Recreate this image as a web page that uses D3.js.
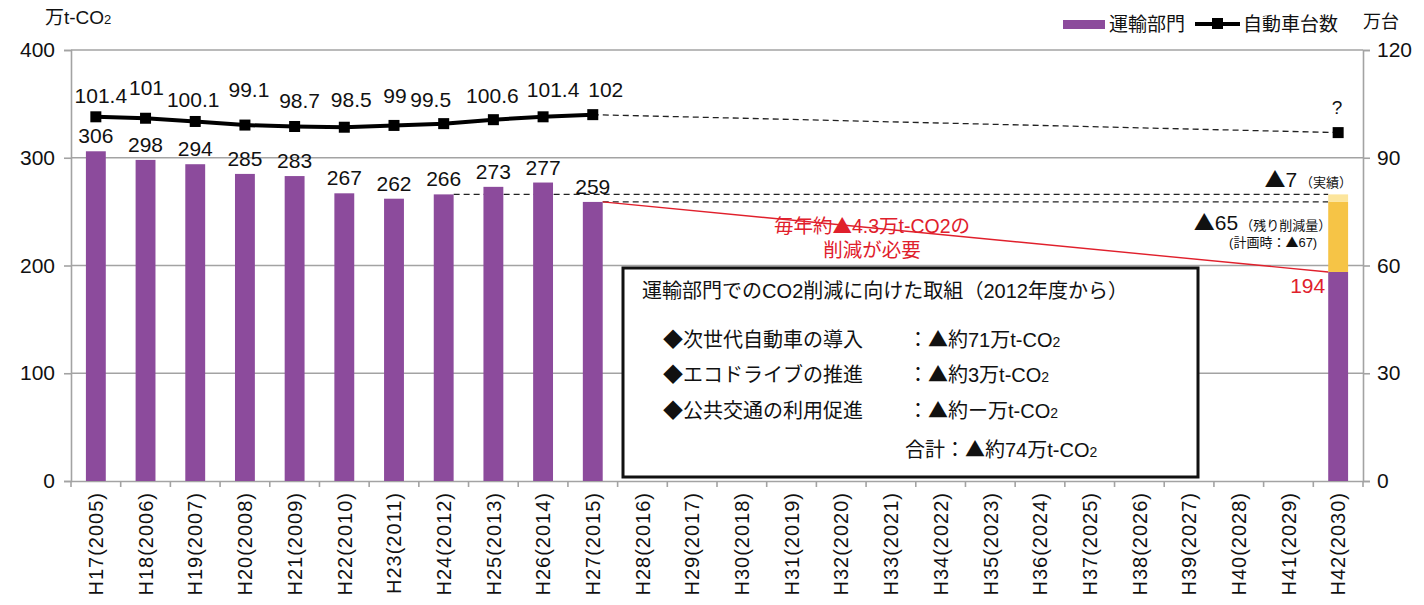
<!DOCTYPE html>
<html lang="ja">
<head>
<meta charset="utf-8">
<script src="https://cdn.jsdelivr.net/npm/d3@7"></script>
<style>
  html, body { margin: 0; padding: 0; background: #fff; }
  svg { display: block; font-family: "Liberation Sans", "Noto Sans CJK JP", sans-serif; }
</style>
</head>
<body>
<svg id="chart" width="1424" height="605"></svg>
<script>
// Fiscal years on the category axis
const categories = [
  "H17(2005)", "H18(2006)", "H19(2007)", "H20(2008)", "H21(2009)", "H22(2010)",
  "H23(2011)", "H24(2012)", "H25(2013)", "H26(2014)", "H27(2015)", "H28(2016)",
  "H29(2017)", "H30(2018)", "H31(2019)", "H32(2020)", "H33(2021)", "H34(2022)",
  "H35(2023)", "H36(2024)", "H37(2025)", "H38(2026)", "H39(2027)", "H40(2028)",
  "H41(2029)", "H42(2030)"
];
// Transport-sector CO2 emissions (万t-CO2), H17–H27
const emissionYears = categories.slice(0, 11);
const emissions = [306, 298, 294, 285, 283, 267, 262, 266, 273, 277, 259];
// Registered vehicles (万台), H17–H27
const vehicles = [101.4, 101, 100.1, 99.1, 98.7, 98.5, 99, 99.5, 100.6, 101.4, 102];
const vehicleLabels = ["101.4", "101", "100.1", "99.1", "98.7", "98.5", "99", "99.5", "100.6", "101.4", "102"];
// Projected vehicles for 2030 (shown as "?")
const vehicles2030 = 97;
// 2030 target bar: target level, remaining reduction, achieved reduction
const target2030 = 194;
const remainingCut = 65;
const achievedCut = 7;
const plannedCut = 67;
// Reference years
const baseYear = "H24(2012)";
const latestYear = "H27(2015)";
const targetYear = "H42(2030)";
// Axis ticks
const leftTicks = [0, 100, 200, 300, 400];
const rightTicks = [0, 30, 60, 90, 120];
// Label placement nudges for the vehicle series [dx, dy]
const vehicleLabelNudge = [[5, -14], [1, -23], [-2, -14], [4, -28], [5, -19], [7, -20],
  [1, -22], [-13, -17], [-1, -17], [10, -20], [13, -18]];

const PURPLE = "#8c4b9c", YELLOW = "#f6c446", PALE = "#fce59c", RED = "#e0202c", GRID = "#a3a3a3";
const CJK = "Noto Sans CJK JP";

const svg = d3.select("#chart");
const plotLeft = 71, plotRight = 1363, plotTop = 50, plotBottom = 481;

const x = d3.scaleBand().domain(categories).range([plotLeft, plotRight]).paddingInner(0.6).paddingOuter(0.3);
const y = d3.scaleLinear().domain([0, 400]).range([plotBottom, plotTop]);
const y2 = d3.scaleLinear().domain([0, 120]).range([plotBottom, plotTop]);
const cx = d => x(d) + x.bandwidth() / 2;

// Appends text, drawing ▲ and ◆ with the CJK font so they come out full width
function rich(sel, str, size) {
  str.split(/([▲◆])/).filter(s => s.length).forEach(part => {
    const t = sel.append("tspan").text(part);
    if (size) t.attr("font-size", size);
    if (part === "▲" || part === "◆") t.attr("font-family", CJK);
  });
  return sel;
}

// Horizontal gridlines
svg.append("g").selectAll("line").data(leftTicks.filter(t => t > 0)).join("line")
  .attr("x1", plotLeft).attr("x2", plotRight)
  .attr("y1", d => y(d)).attr("y2", d => y(d))
  .attr("stroke", GRID).attr("stroke-width", 1.6);

// Left axis
const gl = svg.append("g").attr("transform", `translate(${plotLeft},0)`)
  .call(d3.axisLeft(y).tickValues(leftTicks).tickSize(7).tickPadding(9));
// Right axis
const gr = svg.append("g").attr("transform", `translate(${plotRight},0)`)
  .call(d3.axisRight(y2).tickValues(rightTicks).tickSize(7).tickPadding(7));
[gl, gr].forEach(g => {
  g.select(".domain").attr("stroke", GRID).attr("stroke-width", 1.6);
  g.selectAll(".tick line").attr("stroke", GRID).attr("stroke-width", 1.6);
  g.selectAll(".tick text").attr("font-size", 21).attr("fill", "#111")
    .attr("font-family", "Liberation Sans, sans-serif");
});

// Category axis
const gx = svg.append("g").attr("transform", `translate(0,${plotBottom})`)
  .call(d3.axisBottom(x).tickSize(0).tickPadding(0));
gx.select(".domain").attr("stroke", GRID).attr("stroke-width", 1.6);
gx.selectAll(".tick text")
  .attr("transform", "rotate(-90)")
  .attr("text-anchor", "end")
  .attr("x", -11).attr("y", 0).attr("dy", "0.36em")
  .attr("font-size", 20).attr("letter-spacing", 1).attr("fill", "#111")
  .attr("font-family", "Liberation Sans, sans-serif");
// Ticks at band boundaries
const edges = categories.map(c => x(c) - x.step() * x.paddingInner() / 2).concat([plotRight]);
edges[0] = plotLeft;
svg.append("g").selectAll("line").data(edges).join("line")
  .attr("x1", d => d).attr("x2", d => d).attr("y1", plotBottom).attr("y2", plotBottom + 6)
  .attr("stroke", GRID).attr("stroke-width", 1.6);

// Reference dashed lines: base-year level and latest level to 2030
const dashed = svg.append("g").attr("stroke", "#222").attr("stroke-width", 1.3).attr("stroke-dasharray", "6,4");
const baseVal = emissions[emissionYears.indexOf(baseYear)];
const latestVal = emissions[emissionYears.indexOf(latestYear)];
dashed.append("line")
  .attr("x1", x(baseYear) + x.bandwidth()).attr("x2", x(targetYear))
  .attr("y1", y(baseVal)).attr("y2", y(baseVal));
dashed.append("line")
  .attr("x1", x(latestYear) + x.bandwidth()).attr("x2", x(targetYear))
  .attr("y1", y(latestVal)).attr("y2", y(latestVal));

// Emission bars
svg.append("g").selectAll("rect").data(emissions).join("rect")
  .attr("x", (d, i) => x(emissionYears[i]))
  .attr("width", x.bandwidth())
  .attr("y", d => y(d)).attr("height", d => y(0) - y(d))
  .attr("fill", PURPLE);

// 2030 stacked bar
const stack2030 = [
  { lo: 0, hi: target2030, fill: PURPLE },
  { lo: target2030, hi: target2030 + remainingCut, fill: YELLOW },
  { lo: target2030 + remainingCut, hi: target2030 + remainingCut + achievedCut, fill: PALE }
];
svg.append("g").selectAll("rect").data(stack2030).join("rect")
  .attr("x", x(targetYear)).attr("width", x.bandwidth())
  .attr("y", d => y(d.hi)).attr("height", d => y(d.lo) - y(d.hi))
  .attr("fill", d => d.fill);

// Bar value labels
svg.append("g").selectAll("text").data(emissions).join("text")
  .attr("x", (d, i) => cx(emissionYears[i]))
  .attr("y", d => y(d) - 8)
  .attr("text-anchor", "middle").attr("font-size", 21).attr("fill", "#111")
  .text(d => d);

// Required reduction trend line
svg.append("line")
  .attr("x1", x(latestYear) + x.bandwidth()).attr("y1", y(latestVal))
  .attr("x2", x(targetYear)).attr("y2", y(target2030))
  .attr("stroke", RED).attr("stroke-width", 1.4);

// Vehicle count series
const vPts = vehicles.map((v, i) => [cx(emissionYears[i]), y2(v)]);
svg.append("line")
  .attr("x1", vPts[vPts.length - 1][0]).attr("y1", vPts[vPts.length - 1][1])
  .attr("x2", cx(targetYear)).attr("y2", y2(vehicles2030))
  .attr("stroke", "#222").attr("stroke-width", 1.3).attr("stroke-dasharray", "6,4");
svg.append("path").datum(vPts)
  .attr("d", d3.line())
  .attr("fill", "none").attr("stroke", "#000").attr("stroke-width", 4);
svg.append("g").selectAll("rect").data(vPts.concat([[cx(targetYear), y2(vehicles2030)]])).join("rect")
  .attr("x", d => d[0] - 5.5).attr("y", d => d[1] - 5.5)
  .attr("width", 11).attr("height", 11).attr("fill", "#000");
svg.append("g").selectAll("text").data(vehicleLabels).join("text")
  .attr("x", (d, i) => vPts[i][0] + vehicleLabelNudge[i][0])
  .attr("y", (d, i) => vPts[i][1] + vehicleLabelNudge[i][1])
  .attr("text-anchor", "middle").attr("font-size", 21).attr("fill", "#111")
  .text(d => d);
svg.append("text")
  .attr("x", cx(targetYear) - 1).attr("y", y2(vehicles2030) - 19)
  .attr("text-anchor", "middle").attr("font-size", 19).attr("fill", "#111")
  .text("?");

// Axis titles
const t1 = svg.append("text").attr("x", 45).attr("y", 24).attr("font-size", 19).attr("fill", "#111");
t1.append("tspan").text("万t-CO");
t1.append("tspan").attr("font-size", 13).text("2");
svg.append("text").attr("x", 1363).attr("y", 28).attr("font-size", 18).attr("fill", "#111").text("万台");

// Legend
svg.append("rect").attr("x", 1063).attr("y", 20).attr("width", 42).attr("height", 9).attr("fill", PURPLE);
svg.append("text").attr("x", 1109).attr("y", 31).attr("font-size", 19).attr("fill", "#111").text("運輸部門");
svg.append("line").attr("x1", 1195).attr("x2", 1240).attr("y1", 24).attr("y2", 24)
  .attr("stroke", "#000").attr("stroke-width", 4);
svg.append("rect").attr("x", 1212).attr("y", 18).attr("width", 11).attr("height", 11).attr("fill", "#000");
svg.append("text").attr("x", 1243).attr("y", 31).attr("font-size", 19).attr("fill", "#111").text("自動車台数");

// 2030 annotations
const bx = x(targetYear);
const a1 = svg.append("text").attr("x", bx + x.bandwidth() + 4).attr("y", 187).attr("text-anchor", "end").attr("fill", "#111");
rich(a1, `▲${achievedCut}`, 21);
a1.append("tspan").attr("font-size", 13).attr("dx", 3).text("（実績）");
const a2 = svg.append("text").attr("x", bx + 3).attr("y", 230).attr("text-anchor", "end").attr("fill", "#111");
rich(a2, `▲${remainingCut}`, 21);
a2.append("tspan").attr("font-size", 13).attr("dx", 2).text("（残り削減量）");
rich(svg.append("text").attr("x", bx - 11).attr("y", 247).attr("text-anchor", "end")
  .attr("font-size", 13).attr("fill", "#111"), `(計画時：▲${plannedCut})`);
svg.append("text").attr("x", bx - 3).attr("y", 293).attr("text-anchor", "end")
  .attr("font-size", 21).attr("fill", RED).text(target2030);

// Red note on the required annual reduction
rich(svg.append("text").attr("x", 872).attr("y", 233).attr("text-anchor", "middle")
  .attr("font-size", 19.5).attr("fill", RED), "毎年約▲4.3万t-CO2の");
svg.append("text").attr("x", 872).attr("y", 257).attr("text-anchor", "middle")
  .attr("font-size", 19.5).attr("fill", RED).text("削減が必要");

// Measures box
const box = svg.append("g");
box.append("rect").attr("x", 623).attr("y", 268).attr("width", 575).attr("height", 209)
  .attr("fill", "#fff").attr("stroke", "#111").attr("stroke-width", 3);
const bt = (xx, yy) => box.append("text").attr("x", xx).attr("y", yy).attr("font-size", 20).attr("fill", "#111");
bt(642, 298).attr("textLength", 486).text("運輸部門でのCO2削減に向けた取組（2012年度から）");
const measures = [
  ["◆次世代自動車の導入", "：▲約71万t-CO"],
  ["◆エコドライブの推進", "：▲約3万t-CO"],
  ["◆公共交通の利用促進", "：▲約ー万t-CO"]
];
const rowsY = [347, 382, 418];
measures.forEach((m, i) => {
  rich(bt(663, rowsY[i]), m[0]);
  const t = rich(bt(908, rowsY[i]), m[1]);
  t.append("tspan").attr("font-size", 14).text("2");
});
const tot = rich(bt(905, 457), "合計：▲約74万t-CO");
tot.append("tspan").attr("font-size", 14).text("2");
</script>
</body>
</html>
